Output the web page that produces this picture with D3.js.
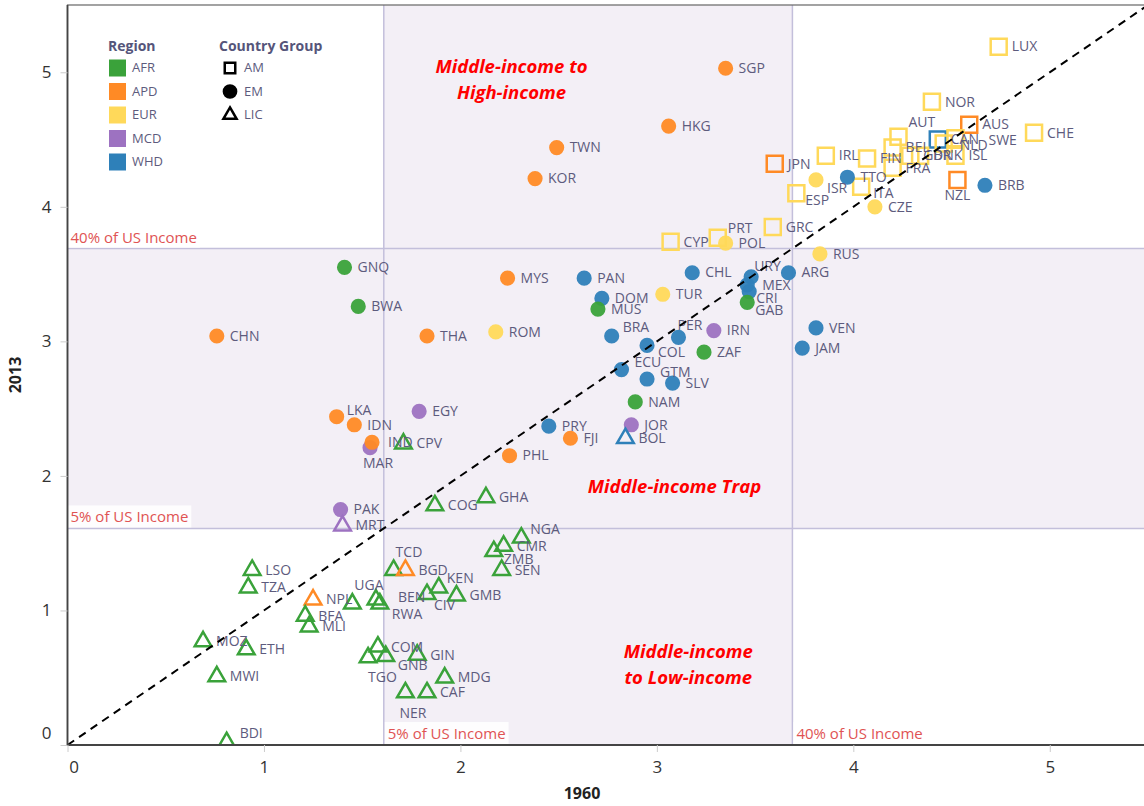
<!DOCTYPE html>
<html>
<head>
<meta charset="utf-8">
<script src="https://cdn.jsdelivr.net/npm/d3@7"></script>
<style>
  body { margin: 0; background: #fff; }
  svg { font-family: "Open Sans", sans-serif; }
</style>
</head>
<body>
<div id="root"></div>
<script>
// Size of the chart
const width = 1144;
const height = 806;
const plotLeft = 67.5, plotRight = 1148, plotTop = 5, plotBottom = 745;

// Income thresholds (log scale, share of US income)
const thresholdLow = 1.61;
const thresholdHigh = 3.69;

// Legend values
const regions = ["AFR", "APD", "EUR", "MCD", "WHD"];
const regionColors = ["#3aa23a", "#ff8a25", "#ffd95a", "#9d72c1", "#2e80b9"];
const groups = ["AM", "EM", "LIC"];

// Advanced markets (squares)
const amCodes  = ["LUX", "NOR", "AUS", "AUT", "CHE", "CAN", "NLD", "SWE", "ISL", "BEL", "FRA", "GBR", "DNK", "FIN", "IRL", "JPN", "ESP", "ITA", "NZL", "GRC", "CYP", "PRT"];
const amRegion = ["EUR", "EUR", "APD", "EUR", "EUR", "WHD", "EUR", "EUR", "EUR", "EUR", "EUR", "EUR", "EUR", "EUR", "EUR", "APD", "EUR", "EUR", "APD", "EUR", "EUR", "EUR"];
const am1960   = [4.74, 4.40, 4.59, 4.23, 4.92, 4.43, 4.46, 4.52, 4.52, 4.20, 4.20, 4.29, 4.34, 4.07, 3.86, 3.60, 3.71, 4.04, 4.53, 3.59, 3.07, 3.31];
const am2013   = [5.19, 4.78, 4.61, 4.52, 4.55, 4.50, 4.47, 4.51, 4.38, 4.44, 4.29, 4.38, 4.38, 4.36, 4.38, 4.32, 4.10, 4.15, 4.20, 3.85, 3.74, 3.77];

// Emerging markets (circles)
const emCodes  = ["SGP", "HKG", "TWN", "KOR", "ISR", "TTO", "CZE", "BRB", "RUS", "POL", "GNQ", "BWA", "CHN", "THA", "MYS", "ROM", "PAN", "DOM", "MUS", "TUR", "CHL", "URY", "MEX", "CRI", "GAB", "ARG", "VEN", "JAM", "IRN", "BRA", "PER", "COL", "ECU", "GTM", "SLV", "ZAF", "NAM", "JOR", "PRY", "FJI", "PHL", "LKA", "IDN", "MAR", "IND", "EGY", "PAK"];
const emRegion = ["APD", "APD", "APD", "APD", "EUR", "WHD", "EUR", "WHD", "EUR", "EUR", "AFR", "AFR", "APD", "APD", "APD", "EUR", "WHD", "WHD", "AFR", "EUR", "WHD", "WHD", "WHD", "WHD", "AFR", "WHD", "WHD", "WHD", "MCD", "WHD", "WHD", "WHD", "WHD", "WHD", "WHD", "AFR", "AFR", "MCD", "WHD", "APD", "APD", "APD", "APD", "MCD", "APD", "MCD", "MCD"];
const em1960   = [3.35, 3.06, 2.49, 2.38, 3.81, 3.97, 4.11, 4.67, 3.83, 3.35, 1.41, 1.48, 0.76, 1.83, 2.24, 2.18, 2.63, 2.72, 2.70, 3.03, 3.18, 3.48, 3.46, 3.47, 3.46, 3.67, 3.81, 3.74, 3.29, 2.77, 3.11, 2.95, 2.82, 2.95, 3.08, 3.24, 2.89, 2.87, 2.45, 2.56, 2.25, 1.37, 1.46, 1.54, 1.55, 1.79, 1.39];
const em2013   = [5.03, 4.60, 4.44, 4.21, 4.20, 4.22, 4.00, 4.16, 3.65, 3.73, 3.55, 3.26, 3.04, 3.04, 3.47, 3.07, 3.47, 3.32, 3.24, 3.35, 3.51, 3.48, 3.42, 3.37, 3.29, 3.51, 3.10, 2.95, 3.08, 3.04, 3.03, 2.97, 2.79, 2.72, 2.69, 2.92, 2.55, 2.38, 2.37, 2.28, 2.15, 2.44, 2.38, 2.21, 2.25, 2.48, 1.75];

// Low-income countries (triangles)
const licCodes  = ["BOL", "CPV", "MRT", "COG", "GHA", "NGA", "CMR", "ZMB", "SEN", "TCD", "BGD", "KEN", "CIV", "GMB", "UGA", "BEN", "RWA", "NPL", "BFA", "MLI", "LSO", "TZA", "MOZ", "ETH", "MWI", "BDI", "COM", "TGO", "GNB", "GIN", "MDG", "NER", "CAF"];
const licRegion = ["WHD", "AFR", "MCD", "AFR", "AFR", "AFR", "AFR", "AFR", "AFR", "AFR", "APD", "AFR", "AFR", "AFR", "AFR", "AFR", "AFR", "APD", "AFR", "AFR", "AFR", "AFR", "AFR", "AFR", "AFR", "AFR", "AFR", "AFR", "AFR", "AFR", "AFR", "AFR", "AFR"];
const lic1960   = [2.84, 1.71, 1.40, 1.87, 2.13, 2.31, 2.22, 2.17, 2.21, 1.66, 1.72, 1.89, 1.83, 1.98, 1.45, 1.57, 1.59, 1.25, 1.21, 1.23, 0.94, 0.92, 0.69, 0.91, 0.76, 0.81, 1.58, 1.53, 1.62, 1.78, 1.92, 1.72, 1.83];
const lic2013   = [2.28, 2.24, 1.63, 1.78, 1.84, 1.54, 1.48, 1.44, 1.30, 1.30, 1.30, 1.17, 1.12, 1.11, 1.05, 1.08, 1.05, 1.08, 0.96, 0.88, 1.30, 1.17, 0.77, 0.71, 0.51, 0.02, 0.73, 0.65, 0.66, 0.67, 0.50, 0.39, 0.39];

// Tick values
const xTicks = [0, 1, 2, 3, 4, 5];
const yTicks = [0, 1, 2, 3, 4, 5];

// Label nudges (px) where the label is not placed right of the marker
const labelNudge = {
  AUT: [10, -14], NLD: [16, 3], SWE: [33, 3], NZL: [-13, 16], ESP: [9, 8], ISR: [11, 9],
  ITA: [12, 8], PRT: [10, -9], URY: [3, -10], MEX: [15, 1], CRI: [7, 8], GAB: [8, 9],
  BRA: [11, -8], PER: [-1, -11], COL: [11, 8], ECU: [13, -6], GTM: [13, -6],
  LKA: [10, -5], IND: [16, 1], MAR: [-7, 17], NGA: [9, -8], ZMB: [10, 9], TCD: [2, -17],
  KEN: [8, -8], CIV: [7, 12], UGA: [2, -17], BEN: [22, -1], RWA: [12, 12], BDI: [13, -8],
  TGO: [0, 21], GNB: [12, 10], NER: [-6, 22]
};

// Annotations
const notes = [
  { lines: ["Middle-income to", "High-income"], x: 2.26, y: 5.03 },
  { lines: ["Middle-income Trap"], x: 3.09, y: 1.91 },
  { lines: ["Middle-income", "to Low-income"], x: 3.16, y: 0.68 }
];

const color = d3.scaleOrdinal().domain(regions).range(regionColors);

// Build the point table from the arrays
const points = [];
function addGroup(group, codes, regs, xs, ys) {
  codes.forEach((c, i) => {
    points.push({ code: c, region: regs[i], group: group, x: xs[i], y: ys[i] });
  });
}
addGroup("AM", amCodes, amRegion, am1960, am2013);
addGroup("EM", emCodes, emRegion, em1960, em2013);
addGroup("LIC", licCodes, licRegion, lic1960, lic2013);

const svg = d3.select("#root")
  .append("svg")
  .attr("width", width)
  .attr("height", height);

// Scales
const xScale = d3.scaleLinear().domain([0, 5.5]).range([plotLeft, plotRight]);
const yScale = d3.scaleLinear().domain([0, 5.5]).range([plotBottom, plotTop]);

svg.append("clipPath").attr("id", "plot-clip")
  .append("rect")
  .attr("x", plotLeft).attr("y", plotTop)
  .attr("width", plotRight - plotLeft).attr("height", plotBottom - plotTop);

const plot = svg.append("g").attr("clip-path", "url(#plot-clip)");

// Shaded middle-income bands
const shade = "#f3eff6";
plot.append("rect")
  .attr("x", xScale(thresholdLow)).attr("y", plotTop)
  .attr("width", xScale(thresholdHigh) - xScale(thresholdLow))
  .attr("height", plotBottom - plotTop)
  .attr("fill", shade);
plot.append("rect")
  .attr("x", plotLeft).attr("y", yScale(thresholdHigh))
  .attr("width", plotRight - plotLeft)
  .attr("height", yScale(thresholdLow) - yScale(thresholdHigh))
  .attr("fill", shade);

// Threshold lines
[thresholdLow, thresholdHigh].forEach(t => {
  plot.append("line")
    .attr("x1", xScale(t)).attr("x2", xScale(t))
    .attr("y1", plotTop).attr("y2", plotBottom)
    .attr("stroke", "#c3bfdb").attr("stroke-width", 1.5);
  plot.append("line")
    .attr("x1", plotLeft).attr("x2", plotRight)
    .attr("y1", yScale(t)).attr("y2", yScale(t))
    .attr("stroke", "#c3bfdb").attr("stroke-width", 1.5);
});

// Threshold captions
function caption(text, px, py) {
  const g = plot.append("g");
  const t = g.append("text")
    .attr("x", px).attr("y", py)
    .attr("dominant-baseline", "middle")
    .attr("fill", "#e05353")
    .attr("font-size", "15px")
    .text(text);
  const b = t.node().getBBox();
  g.insert("rect", "text")
    .attr("x", b.x - 3).attr("y", b.y - 1)
    .attr("width", b.width + 6).attr("height", b.height + 2)
    .attr("fill", "#fff").attr("opacity", 0.85);
}
caption("40% of US Income", plotLeft + 3, yScale(thresholdHigh) - 10);
caption("5% of US Income", plotLeft + 3, yScale(thresholdLow) - 10);
caption("5% of US Income", xScale(thresholdLow) + 4, plotBottom - 10);
caption("40% of US Income", xScale(thresholdHigh) + 4, plotBottom - 10);

// Markers
const squareSym = d3.symbol().type(d3.symbolSquare).size(256);
const circleSym = d3.symbol().type(d3.symbolCircle).size(180);
const triSym = d3.symbol().type(d3.symbolTriangle).size(120);

const marks = plot.append("g").attr("class", "marks");
marks.selectAll("path")
  .data(points)
  .enter()
  .append("path")
  .attr("transform", d => "translate(" + xScale(d.x) + "," + yScale(d.y) + ")")
  .attr("d", d => d.group === "AM" ? squareSym() : d.group === "EM" ? circleSym() : triSym())
  .attr("fill", d => d.group === "EM" ? color(d.region) : "none")
  .attr("fill-opacity", 0.95)
  .attr("stroke", d => d.group === "EM" ? "none" : color(d.region))
  .attr("stroke-width", 2.5);

// Country labels
plot.append("g")
  .selectAll("text")
  .data(points)
  .enter()
  .append("text")
  .attr("x", d => xScale(d.x) + (labelNudge[d.code] ? labelNudge[d.code][0] : 13))
  .attr("y", d => yScale(d.y) + (labelNudge[d.code] ? labelNudge[d.code][1] : 1))
  .attr("dominant-baseline", "middle")
  .attr("fill", "#5d5b7d")
  .attr("font-size", "14px")
  .text(d => d.code);

// 45 degree line
plot.append("line")
  .attr("x1", xScale(0)).attr("y1", yScale(0))
  .attr("x2", xScale(5.5)).attr("y2", yScale(5.5))
  .attr("stroke", "#000").attr("stroke-width", 2)
  .attr("stroke-dasharray", "8,6");

// Annotations
notes.forEach(n => {
  n.lines.forEach((l, i) => {
    plot.append("text")
      .attr("x", xScale(n.x))
      .attr("y", yScale(n.y) + i * 26)
      .attr("text-anchor", "middle")
      .attr("dominant-baseline", "middle")
      .attr("fill", "#ff0000")
      .attr("font-size", "18.5px")
      .attr("font-weight", "bold")
      .attr("font-style", "italic")
      .text(l);
  });
});

// Frame
svg.append("rect")
  .attr("x", plotLeft).attr("y", plotTop)
  .attr("width", plotRight - plotLeft).attr("height", plotBottom - plotTop)
  .attr("fill", "none").attr("stroke", "#666").attr("stroke-width", 1.2);
svg.append("path")
  .attr("d", "M" + plotLeft + "," + plotTop + "V" + plotBottom + "H" + plotRight)
  .attr("fill", "none").attr("stroke", "#444").attr("stroke-width", 1.8);

// Axes
const xAxis = d3.axisBottom(xScale).tickValues(xTicks).tickFormat(d3.format("d")).tickSize(7).tickPadding(9);
const yAxis = d3.axisLeft(yScale).tickValues(yTicks).tickFormat(d3.format("d")).tickSize(7).tickPadding(9);

const gx = svg.append("g")
  .attr("transform", "translate(0," + plotBottom + ")")
  .call(xAxis);
const gy = svg.append("g")
  .attr("transform", "translate(" + plotLeft + ",0)")
  .call(yAxis);

[gx, gy].forEach(g => {
  g.select(".domain").remove();
  g.selectAll(".tick line").attr("stroke", "#ccc");
  g.selectAll(".tick text")
    .attr("fill", "#333")
    .attr("font-size", "17px")
    .attr("font-family", "'Open Sans', sans-serif");
});
gx.selectAll(".tick text").filter(d => d === 0).attr("dx", 6);
gy.selectAll(".tick text").filter(d => d === 0).attr("dy", "-0.4em");

// Axis titles
svg.append("text")
  .attr("x", 582).attr("y", 795)
  .attr("text-anchor", "middle").attr("dominant-baseline", "middle")
  .attr("font-size", "16px").attr("font-weight", "bold").attr("fill", "#222")
  .text("1960");
svg.append("text")
  .attr("transform", "translate(17," + (plotTop + plotBottom) / 2 + ") rotate(-90)")
  .attr("text-anchor", "middle").attr("dominant-baseline", "middle")
  .attr("font-size", "16px").attr("font-weight", "bold").attr("fill", "#222")
  .text("2013");

// Legend: Region
const legend = svg.append("g");
legend.append("text")
  .attr("x", 108).attr("y", 47)
  .attr("dominant-baseline", "middle")
  .attr("font-size", "14px").attr("font-weight", "bold").attr("fill", "#55557a")
  .text("Region");
regions.forEach((r, i) => {
  const cy = 68 + i * 23.5;
  legend.append("rect")
    .attr("x", 109).attr("y", cy - 8.5)
    .attr("width", 17).attr("height", 17)
    .attr("fill", color(r));
  legend.append("text")
    .attr("x", 132).attr("y", cy + 1)
    .attr("dominant-baseline", "middle")
    .attr("font-size", "13px").attr("fill", "#5d5b7d")
    .text(r);
});

// Legend: Country Group
legend.append("text")
  .attr("x", 219).attr("y", 47)
  .attr("dominant-baseline", "middle")
  .attr("font-size", "14px").attr("font-weight", "bold").attr("fill", "#55557a")
  .text("Country Group");
const legendSym = {
  AM: d3.symbol().type(d3.symbolSquare).size(110),
  EM: d3.symbol().type(d3.symbolCircle).size(170),
  LIC: d3.symbol().type(d3.symbolTriangle).size(75)
};
groups.forEach((g, i) => {
  const cy = 68 + i * 23.5;
  legend.append("path")
    .attr("transform", "translate(230," + cy + ")")
    .attr("d", legendSym[g]())
    .attr("fill", g === "EM" ? "#000" : "none")
    .attr("stroke", g === "EM" ? "none" : "#000")
    .attr("stroke-width", 2.5);
  legend.append("text")
    .attr("x", 244).attr("y", cy + 1)
    .attr("dominant-baseline", "middle")
    .attr("font-size", "13px").attr("fill", "#5d5b7d")
    .text(g);
});
</script>
</body>
</html>
